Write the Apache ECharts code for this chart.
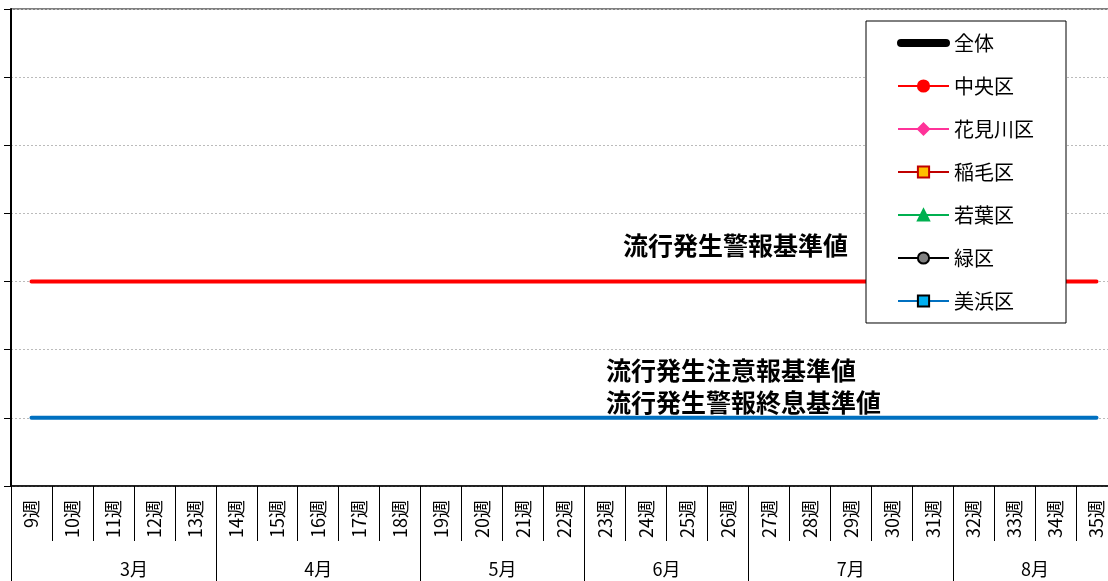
<!DOCTYPE html>
<html><head><meta charset="utf-8">
<script src="https://cdn.jsdelivr.net/npm/echarts@6/dist/echarts.min.js"></script>
<style>html,body{margin:0;padding:0;background:#fff}#c{width:1108px;height:581px}</style>
</head><body><div id="c"></div>
<script>
var weeks = ['9週','10週','11週','12週','13週','14週','15週','16週','17週','18週','19週','20週','21週','22週','23週','24週','25週','26週','27週','28週','29週','30週','31週','32週','33週','34週','35週'];
var months = ['3月','4月','5月','6月','7月','8月'];
var monthFirstWeek = ['10週','14週','19週','23週','27週','32週'];
var monthLastWeek  = ['13週','18週','22週','26週','31週','35週'];
var alarmLevel = weeks.map(function(){return 30;});
var cautionLevel = weeks.map(function(){return 10;});
var districtNames = ['全体','中央区','花見川区','稲毛区','若葉区','緑区','美浜区'];
var districtData = { '全体':[], '中央区':[], '花見川区':[], '稲毛区':[], '若葉区':[], '緑区':[], '美浜区':[] };
var yTicks = [0,10,20,30,40,50,60,70];
var alarmText = '流行発生警報基準値';
var cautionText = ['流行発生注意報基準値','流行発生警報終息基準値'];

var FONT = '"Noto Sans CJK JP", "Noto Sans", sans-serif';
var monthBounds = [-0.5], monthCenters = [];
months.forEach(function(m,i){
  var a = weeks.indexOf(monthFirstWeek[i]) - 0.5, b = weeks.indexOf(monthLastWeek[i]) + 0.5;
  monthBounds.push(b); monthCenters.push((a+b)/2);
});

var styles = {
  '全体':   {color:'#000000', width:5, symbol:'none', fill:'#000', border:'#000'},
  '中央区': {color:'#FF0000', width:2, symbol:'circle', fill:'#FF0000', border:'#FF0000'},
  '花見川区':{color:'#FF3399', width:2, symbol:'diamond', fill:'#FF3399', border:'#FF3399'},
  '稲毛区': {color:'#C00000', width:2, symbol:'rect', fill:'#FFC000', border:'#C00000'},
  '若葉区': {color:'#00B050', width:2, symbol:'triangle', fill:'#00B050', border:'#00B050'},
  '緑区':   {color:'#000000', width:2, symbol:'circle', fill:'#808080', border:'#000000'},
  '美浜区': {color:'#0070C0', width:2, symbol:'rect', fill:'#00B0F0', border:'#000000'}
};

var series = districtNames.map(function(n){
  var s = styles[n];
  return {name:n, type:'line', data:districtData[n], symbol:s.symbol, symbolSize:11,
    lineStyle:{color:s.color, width:s.width},
    itemStyle:{color:s.fill, borderColor:s.border, borderWidth:1.5}};
});
series.push({name:'警報基準値', type:'line', data:alarmLevel, symbol:'none',
  lineStyle:{color:'#FF0000', width:4, cap:'round'}, silent:true, z:3});
series.push({name:'注意報基準値', type:'line', data:cautionLevel, symbol:'none',
  lineStyle:{color:'#0070C0', width:4, cap:'round'}, silent:true, z:3});

var legendData = districtNames.map(function(n){
  return n === '全体' ? {name:n, icon:'path://M3,0L48,0A3,3 0 0 1 48,6L3,6A3,3 0 0 1 3,0Z'} : {name:n};
});

var chart = echarts.init(document.getElementById('c'), null, {renderer:'canvas'});
chart.setOption({
  animation:false,
  textStyle:{fontFamily:FONT, color:'#000'},
  grid:{left:11, top:9, width:1106, bottom:95, outerBoundsMode:'none', containLabel:false,
    show:true, borderColor:'#000', borderWidth:1, backgroundColor:'transparent'},
  legend:{data:legendData, orient:'vertical', left:866, top:21, padding:[12,32,12,31],
    itemWidth:51, itemHeight:14, itemGap:23, itemTextGap:5,
    backgroundColor:'#fff', borderColor:'#000', borderWidth:1,
    textStyle:{fontFamily:FONT, fontSize:20, color:'#000'}},
  xAxis:[{
    type:'category', data:weeks, boundaryGap:true, position:'bottom',
    axisLine:{show:true, lineStyle:{color:'#000', width:1.5}},
    axisTick:{show:true, interval:0, length:55, lineStyle:{color:'#000', width:1}},
    axisLabel:{interval:0, rotate:90, margin:14, color:'#000', fontSize:18, fontFamily:FONT},
    splitLine:{show:false}
  },{
    type:'value', min:-0.5, max:weeks.length-0.5, position:'bottom',
    axisLine:{show:false},
    axisTick:{show:true, customValues:monthBounds, length:95, lineStyle:{color:'#000', width:1}},
    axisLabel:{show:true, customValues:monthCenters, margin:74, fontSize:18, color:'#000', fontFamily:FONT,
      formatter:function(v){var i=monthCenters.indexOf(v); return i>=0?months[i]:'';}},
    splitLine:{show:false}
  }],
  yAxis:{type:'value', min:yTicks[0], max:yTicks[yTicks.length-1], interval:10,
    axisLine:{show:true, onZero:false, lineStyle:{color:'#000', width:2}},
    axisTick:{show:true, inside:false, length:7, lineStyle:{color:'#000'}},
    axisLabel:{show:false},
    splitLine:{show:true, lineStyle:{color:'#BBBBBB', type:[2,2], width:1}}},
  series:series
});

// annotation texts anchored to the threshold lines via the chart's scales
var pA = chart.convertToPixel({xAxisIndex:0, yAxisIndex:0}, [weeks[14], alarmLevel[14]]);
var pC = chart.convertToPixel({xAxisIndex:0, yAxisIndex:0}, [weeks[14], cautionLevel[14]]);
var ts = {fontFamily:FONT, fontSize:25, fontWeight:'bold', fill:'#000'};
chart.setOption({graphic:[
  {type:'text', left:pA[0]+18, top:pA[1]-49, style:Object.assign({text:alarmText}, ts), z:10},
  {type:'text', left:pC[0]+1, top:pC[1]-60, style:Object.assign({text:cautionText[0]}, ts), z:10},
  {type:'text', left:pC[0]+1, top:pC[1]-28, style:Object.assign({text:cautionText[1]}, ts), z:10}
]});
</script></body></html>
